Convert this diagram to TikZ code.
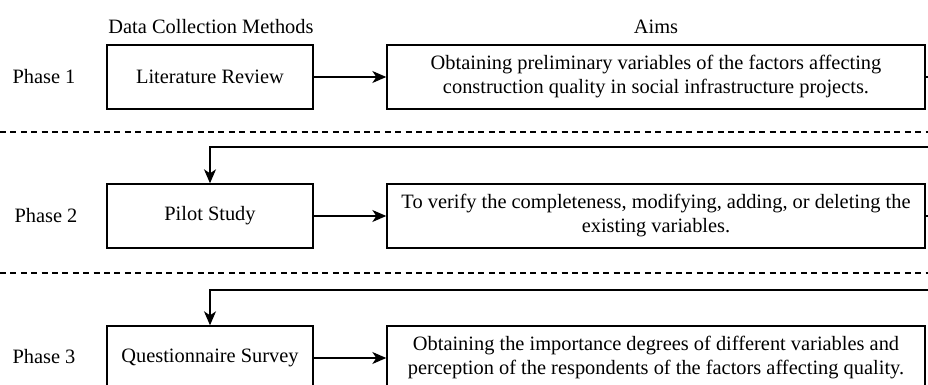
\documentclass[tikz,border=0pt]{standalone}
\usepackage{fontspec}
\setmainfont{Liberation Serif}
\usetikzlibrary{arrows.meta, calc, positioning}

\begin{document}
\begin{tikzpicture}[% styles used in image code
        x = 0.5pt, y = -0.5pt,
        > = {Stealth[length=7pt, width=6pt, inset=2pt]},
   txt/.style = {font=\fontsize{10.2}{12}\selectfont},
 method/.style = {draw, line width=0.7pt, txt,
                  minimum width=103pt, minimum height=32pt,
                  inner sep=2pt},
    aim/.style = {draw, line width=0.7pt, align=center, txt,
                  minimum width=269pt, minimum height=32pt,
                  inner sep=2pt},
  phase/.style = {txt},
   link/.style = {->, line width=0.7pt},
    sep/.style = {line width=0.6pt, dash pattern=on 3pt off 2.2pt}
                    ]
    \useasboundingbox (0,0) rectangle (928,385);
    % column heads
    \node[txt] (head m) at (211,27) {Data Collection Methods};
    \node[txt] (head a) at (656,27) {Aims};

    % phase 1
    \node[phase]  (p1)   at (44,77)  {Phase 1};
    \node[method] (lit)  at (210,77) {Literature Review};
    \node[aim]    (aim1) at (656,77) {Obtaining preliminary variables of the factors affecting\\
                                      construction quality in social infrastructure projects.};
    \draw[link] (lit) -- (aim1);

    \draw[sep] (0,132) -- (928,132);

    % phase 2
    \node[phase]  (p2)    at (46,216)  {Phase 2};
    \node[method] (pilot) at (210,216) {Pilot Study};
    \node[aim]    (aim2)  at (656,216) {To verify the completeness, modifying, adding, or deleting the\\
                                        existing variables.};
    \coordinate (turn1) at (940,147);
    \draw[link] (aim1.east) -| (turn1) -| (pilot.north);
    \draw[link] (pilot) -- (aim2);

    \draw[sep] (0,273) -- (928,273);

    % phase 3
    \node[phase]  (p3)    at (44,357)  {Phase 3};
    \node[method] (quest) at (210,358) {Questionnaire Survey};
    \node[aim]    (aim3)  at (656,358) {Obtaining the importance degrees of different variables and\\
                                        perception of the respondents of the factors affecting quality.};
    \coordinate (turn2) at (940,290);
    \draw[link] (aim2.east) -| (turn2) -| (quest.north);
    \draw[link] (quest) -- (aim3);
\end{tikzpicture}
\end{document}
